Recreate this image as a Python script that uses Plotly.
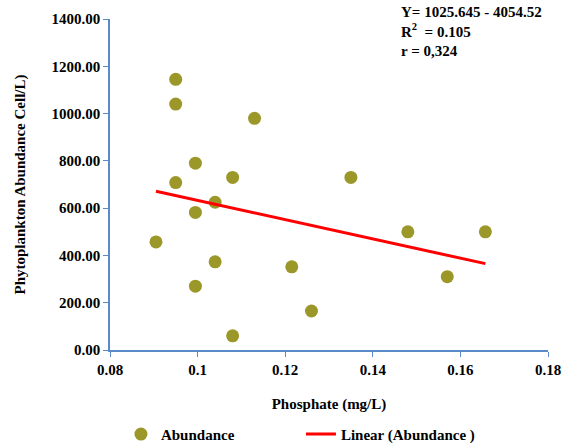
import numpy as np
import plotly.graph_objects as go

phosphate = [0.095, 0.095, 0.113, 0.0995, 0.108, 0.095, 0.104, 0.0995, 0.0905,
             0.104, 0.0995, 0.108, 0.135, 0.148, 0.1215, 0.126, 0.157, 0.1657]
abundance = [1145, 1040, 980, 790, 730, 708, 625, 582, 457,
             373, 270, 60, 730, 500, 352, 165, 310, 500]

x_ticks = [0.08, 0.10, 0.12, 0.14, 0.16, 0.18]
x_ticktext = ["0.08", "0.1", "0.12", "0.14", "0.16", "0.18"]
y_ticks = [0, 200, 400, 600, 800, 1000, 1200, 1400]
y_ticktext = ["0.00", "200.00", "400.00", "600.00", "800.00", "1000.00", "1200.00", "1400.00"]

eq_lines = ["Y= 1025.645 - 4054.52", "R<sup>2</sup>  = 0.105", "r = 0,324"]

# linear trendline (least squares), spanning the data range
slope, intercept = np.polyfit(phosphate, abundance, 1)
tx = [min(phosphate), max(phosphate)]
ty = [intercept + slope * v for v in tx]

FONT = "Liberation Serif, Times New Roman, serif"
AXIS_COLOR = "#5B8ACB"


def bold(labels):
    return ["<b>" + s + "</b>" for s in labels]


fig = go.Figure()
fig.add_trace(go.Scatter(
    x=phosphate, y=abundance, mode="markers", name="<b>Abundance</b>",
    marker=dict(size=13, color="#9C9729"),
))
fig.add_trace(go.Scatter(
    x=tx, y=ty, mode="lines", name="<b>Linear (Abundance )</b>",
    line=dict(color="#FF0000", width=3),
))

fig.update_layout(
    width=568, height=445,
    margin=dict(l=110, r=20, t=19, b=95, autoexpand=False),
    paper_bgcolor="white", plot_bgcolor="white",
    font=dict(family=FONT, size=15, color="black"),
    showlegend=True,
    legend=dict(orientation="h", x=0.025, xanchor="left", y=-0.205, yanchor="top",
                entrywidth=135, entrywidthmode="pixels",
                font=dict(family=FONT, size=15, color="black")),
    xaxis=dict(
        range=[0.08, 0.18], tickvals=x_ticks, ticktext=bold(x_ticktext),
        automargin=False,
        showgrid=False, zeroline=False, showline=True, linecolor=AXIS_COLOR,
        linewidth=1.5, ticks="outside", tickcolor=AXIS_COLOR, ticklen=5,
        tickfont=dict(family=FONT, size=15, color="black"),
        title=dict(text="<b>Phosphate (mg/L)</b>", font=dict(family=FONT, size=15),
                   standoff=22),
    ),
    yaxis=dict(
        range=[0, 1400], tickvals=y_ticks, ticktext=bold(y_ticktext),
        automargin=False,
        showgrid=False, zeroline=False, showline=True, linecolor=AXIS_COLOR,
        linewidth=1.5, ticks="outside", tickcolor=AXIS_COLOR, ticklen=5,
        tickfont=dict(family=FONT, size=15, color="black"),
        title=dict(text="<b>Phytoplankton Abundance Cell/L)</b>",
                   font=dict(family=FONT, size=15), standoff=22),
    ),
)

fig.add_annotation(
    x=0.66, y=1.05, xref="paper", yref="paper", xanchor="left", yanchor="top",
    text="<b>" + "<br>".join(eq_lines) + "</b>", showarrow=False, align="left",
    font=dict(family=FONT, size=15, color="black"),
)

fig.write_html("out.html")
